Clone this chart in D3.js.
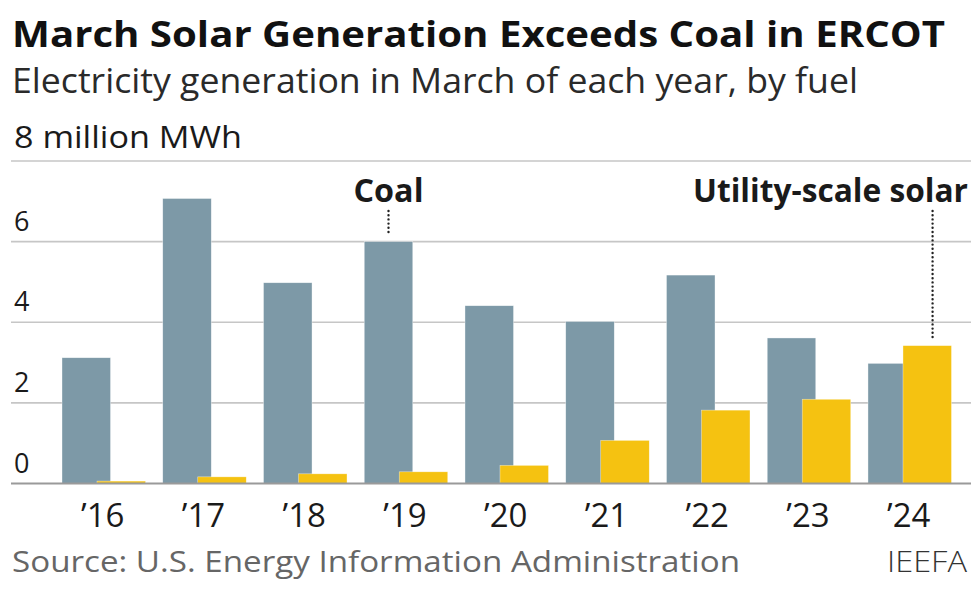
<!DOCTYPE html>
<html>
<head>
<meta charset="utf-8">
<script src="https://cdn.jsdelivr.net/npm/d3@7"></script>
<style>
  html, body { margin: 0; padding: 0; background: #fff; }
  svg { display: block; }
  text { font-family: "Open Sans", "Noto Sans", sans-serif; }
</style>
</head>
<body>
<svg id="chart" width="980" height="604"></svg>
<script>
const years = ["’16", "’17", "’18", "’19", "’20", "’21", "’22", "’23", "’24"];
const coal  = [3.12, 7.07, 4.98, 6.00, 4.41, 4.02, 5.17, 3.61, 2.98];
const solar = [0.06, 0.165, 0.24, 0.29, 0.45, 1.07, 1.82, 2.09, 3.42];
const tickValues = [0, 2, 4, 6, 8];
const tickLabels = ["0", "2", "4", "6", "8 million MWh"];

const title = "March Solar Generation Exceeds Coal in ERCOT";
const subtitle = "Electricity generation in March of each year, by fuel";
const source = "Source: U.S. Energy Information Administration";
const credit = "IEEFA";

const COAL = "#7d99a7", SOLAR = "#f5c211";

const svg = d3.select("#chart");

function fit(sel, w) {
  sel.attr("textLength", w).attr("lengthAdjust", "spacingAndGlyphs");
  return sel;
}

// scales
const x = d3.scaleBand().domain(years).range([62, 951.5]).paddingInner(0.171).paddingOuter(0);
const barW = x.bandwidth() * 0.581;
const y = d3.scaleLinear().domain([0, 8]).range([483.5, 161]);

// title block
fit(svg.append("text").attr("x", 12).attr("y", 47)
  .attr("font-size", 36).attr("font-weight", 700).attr("fill", "#111").text(title), 933);
fit(svg.append("text").attr("x", 12).attr("y", 93)
  .attr("font-size", 34).attr("fill", "#2a2a2a").text(subtitle), 846);

// gridlines
const grid = svg.append("g");
grid.selectAll("line").data(tickValues.filter(d => d !== 0)).join("line")
  .attr("x1", 11).attr("x2", 971)
  .attr("y1", d => y(d)).attr("y2", d => y(d))
  .attr("stroke", "#c6c6c6").attr("stroke-width", 1.6);

// tick labels
svg.append("g").selectAll("text").data(tickValues).join("text")
  .attr("x", 14)
  .attr("y", d => d === 8 ? y(d) - 13 : y(d) - 11)
  .attr("font-size", d => d === 8 ? 31 : 27)
  .attr("fill", "#1a1a1a")
  .text((d, i) => tickLabels[i])
  .each(function(d) { if (d === 8) fit(d3.select(this), 228); });

// bars
const bars = svg.append("g");
bars.selectAll("rect.coal").data(coal).join("rect").attr("class", "coal")
  .attr("x", (d, i) => x(years[i]))
  .attr("y", d => y(d))
  .attr("width", barW)
  .attr("height", d => y(0) - y(d))
  .attr("fill", COAL).attr("stroke", "#fff").attr("stroke-width", 0.6).attr("stroke-opacity", 0.6);
bars.selectAll("rect.solar").data(solar).join("rect").attr("class", "solar")
  .attr("x", (d, i) => x(years[i]) + x.bandwidth() - barW)
  .attr("y", d => y(d))
  .attr("width", barW)
  .attr("height", d => y(0) - y(d))
  .attr("fill", SOLAR).attr("stroke", "#fff").attr("stroke-width", 0.6).attr("stroke-opacity", 0.6);

// baseline
svg.append("line").attr("x1", 11).attr("x2", 971).attr("y1", y(0)).attr("y2", y(0))
  .attr("stroke", "#9a9a9a").attr("stroke-width", 2.2);

// x labels
svg.append("g").selectAll("text").data(years).join("text")
  .attr("x", d => x(d) + x.bandwidth() / 2 - 1)
  .attr("y", 527)
  .attr("text-anchor", "middle")
  .attr("font-size", 33).attr("fill", "#1a1a1a")
  .text(d => d);

// annotations
const coalIdx = 3, solarIdx = 8;
const coalX = x(years[coalIdx]) + barW / 2;
const solarX = x(years[solarIdx]) + x.bandwidth() - barW + barW * 0.61;
const dotTop = 211;
svg.append("line").attr("x1", coalX).attr("x2", coalX)
  .attr("y1", dotTop).attr("y2", y(coal[coalIdx]) - 7)
  .attr("stroke", "#222").attr("stroke-width", 2.4)
  .attr("stroke-linecap", "round").attr("stroke-dasharray", "0,4.2");
svg.append("line").attr("x1", solarX).attr("x2", solarX)
  .attr("y1", dotTop).attr("y2", y(solar[solarIdx]) - 7)
  .attr("stroke", "#222").attr("stroke-width", 2.4)
  .attr("stroke-linecap", "round").attr("stroke-dasharray", "0,4.2");

fit(svg.append("text").attr("x", coalX).attr("y", 202).attr("text-anchor", "middle")
  .attr("font-size", 32).attr("font-weight", 700).attr("fill", "#1a1a1a").text("Coal"), 70);
fit(svg.append("text").attr("x", 968).attr("y", 202).attr("text-anchor", "end")
  .attr("font-size", 32).attr("font-weight", 700).attr("fill", "#1a1a1a").text("Utility-scale solar"), 275);

// footer
fit(svg.append("text").attr("x", 12).attr("y", 572)
  .attr("font-size", 30).attr("fill", "#666").text(source), 728);
fit(svg.append("text").attr("x", 967).attr("y", 572).attr("text-anchor", "end")
  .attr("font-size", 30).attr("font-weight", 300).attr("fill", "#333").text(credit), 80);
</script>
</body>
</html>
